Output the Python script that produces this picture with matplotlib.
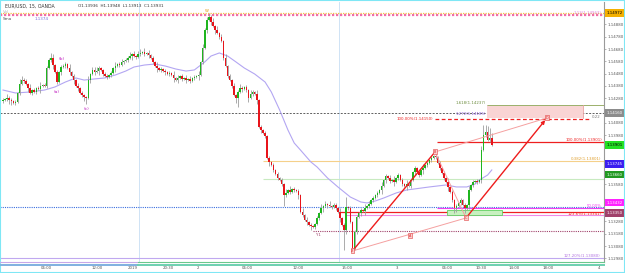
import numpy as np
import matplotlib
matplotlib.use("Agg")
import matplotlib.pyplot as plt

# ---------------- data ----------------
base = 1.13
first_open_pts = 1258
close_pts = [
    1266, 1274, 1282, 1266, 1258, 1242, 1250, 1323, 1396, 1428,
    1420, 1396, 1363, 1323, 1347, 1331, 1363, 1355, 1380, 1388,
    1380, 1526, 1591, 1607, 1550, 1493, 1412, 1493, 1534, 1542,
    1558, 1526, 1493, 1461, 1428, 1380, 1363, 1323, 1307, 1290,
    1282, 1428, 1477, 1510, 1493, 1501, 1526, 1510, 1477, 1461,
    1453, 1469, 1485, 1526, 1542, 1558, 1550, 1575, 1583, 1591,
    1607, 1623, 1640, 1623, 1615, 1640, 1648, 1656, 1640, 1648,
    1631, 1607, 1575, 1542, 1526, 1510, 1518, 1501, 1493, 1477,
    1485, 1469, 1445, 1428, 1445, 1461, 1437, 1445, 1428, 1437,
    1420, 1445, 1453, 1461, 1469, 1575, 1688, 1834, 1916, 1940,
    1899, 1867, 1834, 1810, 1778, 1745, 1607, 1542, 1461, 1428,
    1380, 1307, 1282, 1331, 1363, 1355, 1371, 1347, 1282, 1315,
    1331, 1315, 1266, 1047, 1022, 998, 974, 795, 763, 738,
    698, 665, 633, 616, 584, 495, 511, 535, 519, 543,
    535, 527, 495, 357, 332, 292, 275, 251, 243, 235,
    259, 308, 348, 389, 405, 422, 413, 405, 397, 413,
    389, 357, 308, 251, 210, 397, 389, 275, 64, 194,
    316, 348, 373, 365, 389, 405, 422, 454, 470, 495,
    511, 535, 568, 616, 649, 633, 608, 616, 600, 633,
    657, 616, 584, 568, 584, 568, 616, 681, 714, 681,
    657, 698, 714, 738, 754, 779, 795, 811, 803, 754,
    714, 673, 633, 600, 560, 519, 454, 389, 405, 430,
    454, 413, 389, 413, 535, 576, 600, 608, 600, 616,
    860, 982, 1006, 941, 957, 901,
]
# wick lengths, base-36 digits, in units of 10 points
upper_wick = ("2132212143" "2213121231" "2224312122" "2131212121" "1312232112"
              "2121312212" "2312123131" "2121312121" "2131212121" "2121313223"
              "2313121312" "1212321213" "2131212121" "2121213131" "2121312121"
              "1213121312" "2131281212" "2121312121" "2131212131" "2121312121"
              "2131212121" "2121312121" "2121312121" "386584")
lower_wick = ("2123312121" "2131212131" "1212312121" "2121312123" "5121213121"
              "2121312121" "2131212121" "2121312121" "2131212121" "2121312121"
              "2131212121" "2147121231" "2131212131" "2121292121" "2131212131"
              "2121312121" "2131g32132" "2121312121" "2131212131" "2121312121"
              "2131212121" "2121312431" "2142312121" "212121")

ma_idx = [0, 6, 13, 20, 25, 30, 35, 39, 44, 49, 54, 59, 63, 68, 73, 78, 83, 88, 92,
          97, 100, 104, 108, 112, 116, 121, 126, 129, 133, 137, 140, 143, 148, 151,
          156, 161, 167, 172, 175, 179, 183, 189, 194, 205, 213, 218, 223, 227, 229,
          233, 235]
ma_pts = [1347, 1323, 1331, 1347, 1372, 1412, 1445, 1428, 1437, 1445, 1469, 1501,
          1534, 1550, 1558, 1542, 1518, 1501, 1510, 1575, 1623, 1648, 1623, 1575,
          1526, 1477, 1412, 1331, 1185, 1022, 917, 860, 763, 722, 633, 560, 478,
          438, 430, 446, 470, 511, 535, 560, 576, 560, 560, 584, 616, 657, 698]

time_pos = [21.0, 45.3, 62.2, 79.5, 93.8, 117.6, 141.7, 165.4, 189.6, 213.6,
            229.8, 245.8, 262.0, 286.4]
time_lbl = ["06:00", "12:00", "2019", "20:30", "2", "06:00", "12:00", "15:00",
            "3", "06:00", "10:30", "14:00", "18:00", "4"]

price_ticks = [1.14880, 1.14780, 1.14680, 1.14580, 1.14480, 1.14380, 1.14280,
               1.14080, 1.13980, 1.13580, 1.13280, 1.13180, 1.13080, 1.12980]

# pattern points (candle index, price)
pat_x = [168, 195.7, 207.7, 222.6, 261.5]
pat_p = [1.13040, 1.13162, 1.13844, 1.13308, 1.14120]
pat_lbl = ["X", "A", "B", "C", "D"]

# horizontal levels
lev_price = [1.14972, 1.14956, 1.14160, 1.14225, 1.14110, 1.13923, 1.13771,
             1.13625, 1.13397, 1.13385, 1.13359, 1.13330, 1.12983, 1.13202]

# ---------------- figure ----------------
W, H = 625, 273
FS = 2.8
fig = plt.figure(figsize=(W / 100, H / 100), dpi=100)
fig.patch.set_facecolor("white")
ax = fig.add_axes([0, 1 - 262 / H, 604 / W, 260 / H])
ax.set_facecolor("white")

closes = base + np.array(close_pts) / 1e5
opens = np.concatenate([[base + first_open_pts / 1e5], closes[:-1]])
up = np.array([int(c, 36) for c in upper_wick]) * 10 / 1e5
lo = np.array([int(c, 36) for c in lower_wick]) * 10 / 1e5
highs = np.maximum(opens, closes) + up
lows = np.minimum(opens, closes) - lo
idx = np.arange(len(closes))

px = lambda p: (p - 3) / 2.08
ax.set_xlim(px(0), px(604))
ymax = 1.15078 - 0.0000812 * 2
ymin = 1.15078 - 0.0000812 * 262
ax.set_ylim(ymin, ymax)

# vertical faint lines
for xv in [px(139), px(339)]:
    ax.axvline(xv, color="#cfe3f5", lw=0.7, zorder=0)

# MA
ax.plot(ma_idx, base + np.array(ma_pts) / 1e5, color="#b3a6f2", lw=0.8, zorder=2)

# candles
ax.vlines(idx, lows, highs, color="#9e9e9e", lw=0.6, zorder=3)
bull = closes >= opens
body_lo = np.minimum(opens, closes)
body_h = np.maximum(np.abs(closes - opens), 0.00002)
ax.bar(idx[bull], body_h[bull], bottom=body_lo[bull], width=0.72,
       color="#1fb51f", edgecolor="none", zorder=4)
ax.bar(idx[~bull], body_h[~bull], bottom=body_lo[~bull], width=0.72,
       color="#e8141b", edgecolor="none", zorder=4)

xr = px(604)
# top levels
ax.hlines(lev_price[0], px(0), xr, color="#f5c542", lw=0.9, ls=(0, (1, 1)), zorder=1)
ax.hlines(lev_price[1], px(0), xr, color="#f06ea9", lw=1.6, ls=(0, (1, 0.8)), zorder=1)
ax.text(px(601), lev_price[0] + 0.00004, "1.13(1.14963)", color="#e07ad8", fontsize=FS,
        ha="right", va="center")
ax.text(px(207), lev_price[0] + 0.00012, "w", color="#e0a020", fontsize=3.4, ha="center")
# grey dashed 1.14160
ax.hlines(lev_price[2], px(0), xr, color="#606060", lw=0.7, ls=(0, (2, 1.5)), zorder=1)
# pink zone
ax.fill_between([px(487), px(583)], 1.14110 + 0.00007, lev_price[3], color="#f9d4d4",
                zorder=1, lw=0)
ax.hlines(lev_price[3], px(487), xr, color="#9bb06b", lw=0.7, zorder=1)
ax.plot([px(583), px(583)], [1.14117, lev_price[3]], color="#e8a0a0", lw=0.6)
ax.text(px(486), lev_price[3] + 0.00004, "1.618(1.14237)", color="#6a8a3a", fontsize=FS,
        ha="right", va="bottom")
ax.text(px(486), 1.14160 - 0.00005, "1.272(1.14185)", color="#8a5ad8", fontsize=FS,
        ha="right", va="center")
ax.hlines(lev_price[4], px(435), px(590), color="#ee2020", lw=0.9, ls=(0, (3, 2)), zorder=1)
ax.text(px(433), lev_price[4], "100.00%(1.14150)", color="#ee2020", fontsize=FS,
        ha="right", va="center")
ax.text(px(601), 1.14130, "0.22", color="#777777", fontsize=FS, ha="right", va="center")
# red 100% line
ax.hlines(lev_price[5], px(437), xr, color="#ee2020", lw=0.9, zorder=1)
ax.text(px(602), lev_price[5] + 0.00002, "100.00%(1.13901)", color="#ee2020", fontsize=FS,
        ha="right", va="bottom")
# orange
ax.hlines(lev_price[6], px(263), xr, color="#f5d08a", lw=0.8, zorder=1)
ax.text(px(601), lev_price[6] + 0.00002, "0.382(1.13801)", color="#e0a030", fontsize=FS,
        ha="right", va="bottom")
# light green
ax.hlines(lev_price[7], px(263), xr, color="#c8eac0", lw=0.8, zorder=1)
# blue dotted, magenta, red, pink
ax.hlines(lev_price[8], px(0), xr, color="#3a6ee0", lw=0.8, ls=(0, (1, 1)), zorder=1)
ax.hlines(lev_price[9], px(437), xr, color="#f040f0", lw=0.8, zorder=1)
ax.hlines(lev_price[10], px(340), xr, color="#ee2020", lw=0.9, zorder=1)
ax.hlines(lev_price[11], px(345), xr, color="#f08ae8", lw=0.8, zorder=1)
ax.text(px(602), lev_price[9] + 0.00002, "50.00%", color="#f040f0", fontsize=FS,
        ha="right", va="bottom")
ax.text(px(602), lev_price[10] - 0.00001, "123.6%(1.13341)", color="#ee2020", fontsize=FS,
        ha="right", va="top")
ax.fill_between([px(447), px(502)], 1.13330, 1.13375, color="#c8f0c0", zorder=1,
                edgecolor="#60d060", lw=0.6)
# maroon dotted
ax.hlines(lev_price[13], px(313), xr, color="#a0406a", lw=0.8, ls=(0, (1, 1)), zorder=1)
ax.text(px(318), lev_price[13] - 0.00012, "Y1", color="#a0406a", fontsize=FS,
        ha="center", va="top")
# bottom lavender
ax.hlines(lev_price[12], px(0), xr, color="#c0a8f0", lw=0.8, zorder=1)
ax.text(px(600), lev_price[12] + 0.00002, "127.20%(1.13080)", color="#b070e0", fontsize=FS,
        ha="right", va="bottom")

# wave labels
for (xx, pp, t) in [(62, 1.14600, "(b)"), (57, 1.14331, "(a)"), (87, 1.14193, "(c)")]:
    ax.text(px(xx), pp, t, color="#c020c0", fontsize=3.2, ha="center", va="center")

# pattern lines
ax.plot([pat_x[0], pat_x[2]], [pat_p[0], pat_p[2]], color="#ee1c1c", lw=1.0, zorder=5)
ax.annotate("", xy=(pat_x[4], pat_p[4]), xytext=(pat_x[3], pat_p[3]),
            arrowprops=dict(arrowstyle="-|>", color="#ee1c1c", lw=1.0,
                            mutation_scale=5), zorder=5)
for a, b in [(0, 3), (2, 3), (2, 4)]:
    ax.plot([pat_x[a], pat_x[b]], [pat_p[a], pat_p[b]], color="#f5a0a0", lw=0.7, zorder=5)
for xx, pp, t in zip(pat_x, pat_p, pat_lbl):
    ax.text(xx, pp, t, color="#e02020", fontsize=2.4, ha="center", va="center",
            zorder=6, bbox=dict(boxstyle="square,pad=0.15", fc="#fbd0d0", ec="#e04040",
                                lw=0.4))

# axes styling
for s in ["top", "left", "bottom"]:
    ax.spines[s].set_visible(False)
ax.spines["right"].set_color("#9a9a9a")
ax.spines["right"].set_linewidth(0.8)
ax.yaxis.tick_right()
ax.set_yticks(price_ticks)
ax.set_yticklabels([f"{v:.5f}" for v in price_ticks], fontsize=FS, color="#555555")
ax.tick_params(axis="y", length=1.5, width=0.5, color="#999999", pad=1.0)
ax.set_xticks(time_pos)
ax.set_xticklabels(time_lbl, fontsize=FS, color="#555555")
ax.tick_params(axis="x", length=0, pad=2.8)

# price boxes on the axis
boxes = [(1.14972, "1.14972", "#f4b000", "black"),
         (1.14160, "1.14160", "#8c8c8c", "white"),
         (1.13901, "1.13901", "#22e022", "black"),
         (1.13745, "1.13745", "#3b1ef0", "white"),
         (1.13660, "1.13660", "#229922", "white"),
         (1.13432, "1.13432", "#ff22ff", "white"),
         (1.13350, "1.13350", "#a0406a", "white")]
for p, t, fc, tc in boxes:
    ax.text(1.004, p, t, transform=ax.get_yaxis_transform(), fontsize=FS, color=tc,
            ha="left", va="center", zorder=10,
            bbox=dict(boxstyle="square,pad=0.45", fc=fc, ec="none"))

# header
fig.text(5 / W, 1 - 6 / H, "EUR/USD, 15, OANDA", fontsize=3.3, color="#333333", va="center")
fig.text(78 / W, 1 - 6 / H, "O1.13936  H1.13948  L1.13913  C1.13931", fontsize=3.0,
         color="#333333", va="center", ha="left")
fig.text(3 / W, 1 - 12 / H, "Vol", fontsize=3.0, color="#bbbbbb", va="center")
fig.text(3 / W, 1 - 19 / H, "Sma", fontsize=3.0, color="#555555", va="center")
fig.text(35 / W, 1 - 19 / H, "1.1374", fontsize=3.0, color="#7a6ee0", va="center")

# bottom bands
fig.add_artist(plt.Line2D([0, 138 / W], [1 - 262 / H] * 2, color="#c8a8e8", lw=0.8))
fig.add_artist(plt.Line2D([138 / W, 604 / W], [1 - 262 / H] * 2, color="#6cc88c", lw=0.8))
fig.add_artist(plt.Line2D([0, 138 / W], [1 - 265 / H] * 2, color="#7fb0e0", lw=1.4))
fig.add_artist(plt.Line2D([138 / W, 604 / W], [1 - 265 / H] * 2, color="#6cd0b0", lw=1.4))

# cyan frame
fig.add_artist(plt.Rectangle((0, 0), 1, 1, transform=fig.transFigure, fill=False,
                             ec="#7fe7f5", lw=1.5))

fig.savefig("out.png", dpi=100)
